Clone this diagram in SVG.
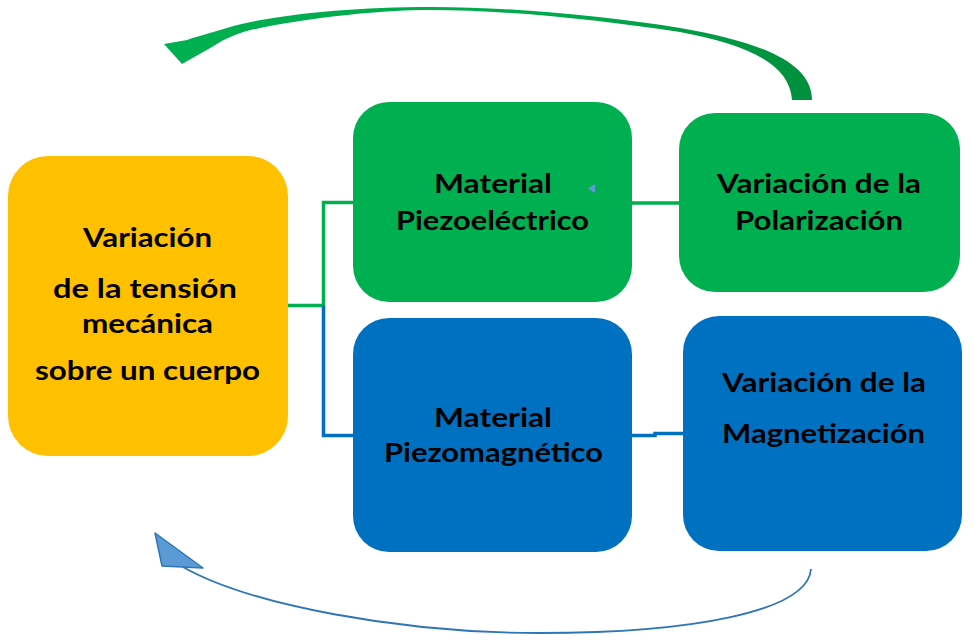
<svg xmlns="http://www.w3.org/2000/svg" width="974" height="641" viewBox="0 0 974 641">
<defs>
<style>
.t{font-family:Lato,"Open Sans","Liberation Sans",sans-serif;font-weight:bold;font-size:27.5px;fill:#000}
.g{stroke:#00B050;stroke-width:3.5;fill:none}
.b{stroke:#0070C0;stroke-width:3.5;fill:none}
</style>
<linearGradient id="ga" x1="812" y1="0" x2="165" y2="0" gradientUnits="userSpaceOnUse">
<stop offset="0" stop-color="#008F3E"/>
<stop offset="0.35" stop-color="#00A84C"/>
<stop offset="1" stop-color="#00B050"/>
</linearGradient>
</defs>
<rect width="974" height="641" fill="#fff"/>
<g id="connectors">
<polyline class="g" points="288,305.5 323.5,305.5 323.5,202.5 353,202.5"/>
<polyline class="b" points="323.5,305.5 323.5,435.5 353,435.5"/>
<line class="g" x1="632" y1="203" x2="679" y2="203"/>
<polyline class="b" points="632,435.5 655,435.5 655,433.5 683,433.5"/>
<path id="topArrow" fill="url(#ga)" d="M812,100 C812,62 760,42 680,28 C600,15 500,6 420,7 C330,8 260,18 230,27 C210,33 195,37 187,40 L164,44 L182,64 L212,47 C226,38 240,32 260,28 C320,16 380,11 420,10 C500,9 600,20 680,32 C750,45 790,65 792,100 Z"/>
<path id="bottomArrow" fill="none" stroke="#2E75B6" stroke-width="1.8" d="M811,569 C808,612 690,633 540,633 C400,633 250,605 183,567"/>
<polygon points="155,533 162,566 203,568" fill="#5B9BD5" stroke="#2E75B6" stroke-width="1.5" stroke-linejoin="round"/>
</g>
<g id="n-tension">
<rect x="8" y="156" width="280" height="300" rx="40" fill="#FFC000"/>
<text class="t" x="83" y="247" textLength="129" lengthAdjust="spacingAndGlyphs">Variación</text>
<text class="t" x="53" y="298" textLength="184" lengthAdjust="spacingAndGlyphs">de la tensión</text>
<text class="t" x="82" y="333" textLength="131" lengthAdjust="spacingAndGlyphs">mecánica</text>
<text class="t" x="35" y="380" textLength="225" lengthAdjust="spacingAndGlyphs">sobre un cuerpo</text>
</g>
<g id="n-piezoelectrico">
<rect x="353" y="102" width="279" height="200" rx="36" fill="#00B050"/>
<text class="t" x="434" y="193" textLength="118" lengthAdjust="spacingAndGlyphs">Material</text>
<text class="t" x="396" y="230" textLength="193" lengthAdjust="spacingAndGlyphs">Piezoeléctrico</text>
<polygon points="588,188.5 595,184 595,193" fill="#5B9BD5"/>
</g>
<g id="n-polarizacion">
<rect x="679" y="113" width="281" height="179" rx="36" fill="#00B050"/>
<text class="t" x="717" y="193" textLength="204" lengthAdjust="spacingAndGlyphs">Variación de la</text>
<text class="t" x="735" y="230" textLength="168" lengthAdjust="spacingAndGlyphs">Polarización</text>
</g>
<g id="n-piezomagnetico">
<rect x="353" y="318" width="279" height="234" rx="36" fill="#0070C0"/>
<text class="t" x="434" y="427" textLength="118" lengthAdjust="spacingAndGlyphs">Material</text>
<text class="t" x="384" y="462" textLength="219" lengthAdjust="spacingAndGlyphs">Piezomagnético</text>
</g>
<g id="n-magnetizacion">
<rect x="683" y="316" width="279" height="235" rx="36" fill="#0070C0"/>
<text class="t" x="722" y="392" textLength="204" lengthAdjust="spacingAndGlyphs">Variación de la</text>
<text class="t" x="722" y="443" textLength="203" lengthAdjust="spacingAndGlyphs">Magnetización</text>
</g>
</svg>
